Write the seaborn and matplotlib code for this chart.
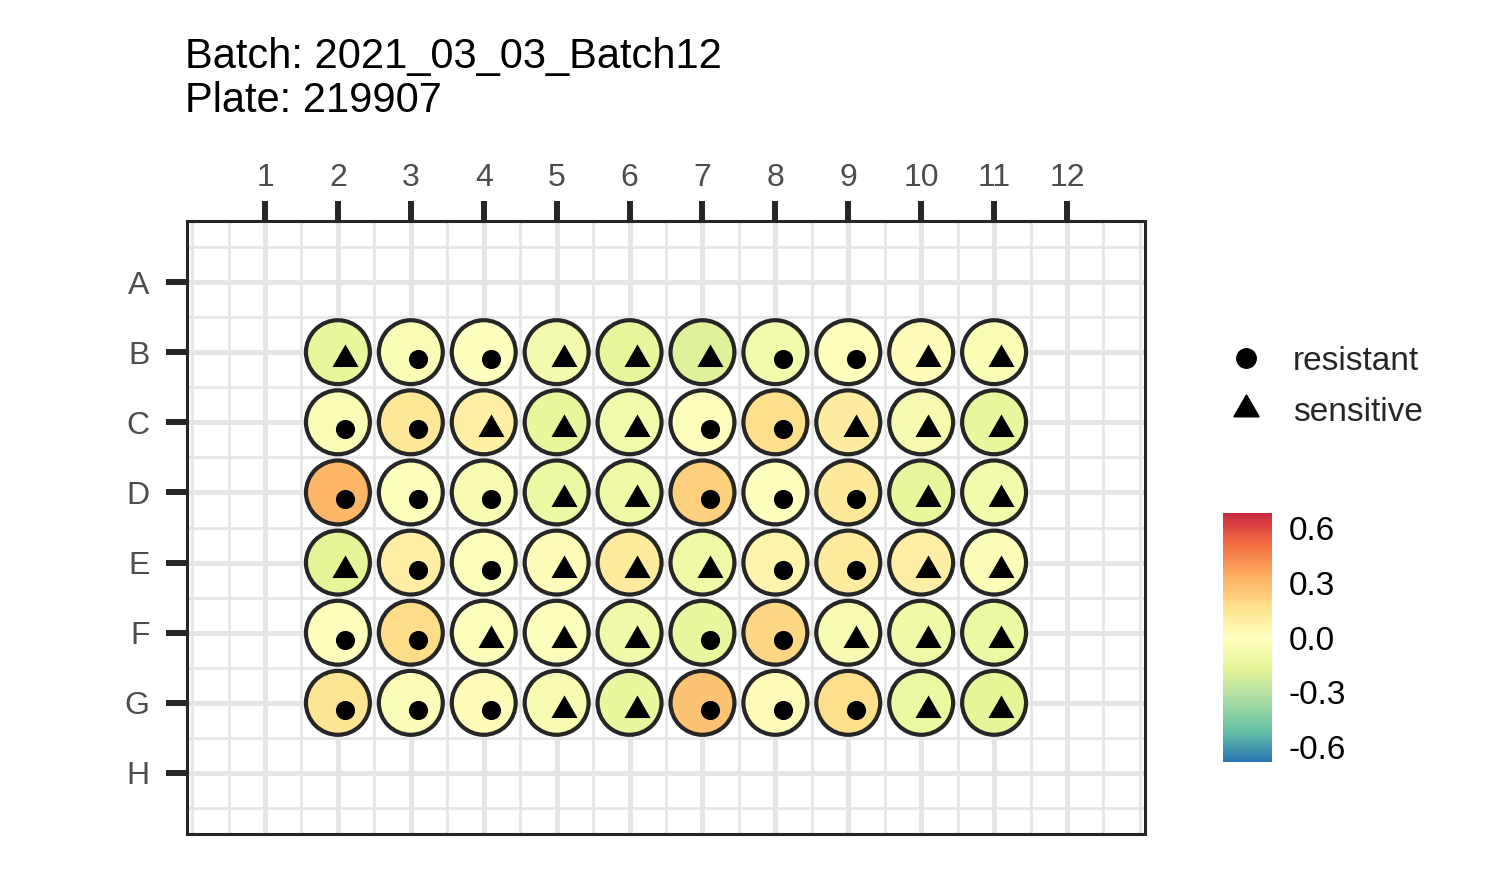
import numpy as np
import pandas as pd
import matplotlib
matplotlib.use("Agg")
import matplotlib.pyplot as plt
import matplotlib.colors as mcolors
from matplotlib.lines import Line2D
import seaborn as sns

# ---------------- data ----------------
plate_rows = ["A", "B", "C", "D", "E", "F", "G", "H"]
plate_cols = list(range(1, 13))
well_rows = ["B", "C", "D", "E", "F", "G"]
well_cols = [2, 3, 4, 5, 6, 7, 8, 9, 10, 11]

values = [
    [-0.15, -0.04, 0.00, -0.08, -0.15, -0.19, -0.09, -0.01, 0.02, -0.04],   # B
    [-0.04, 0.13, 0.09, -0.15, -0.09, 0.01, 0.17, 0.10, -0.06, -0.14],      # C
    [0.32, 0.00, -0.05, -0.12, -0.11, 0.23, 0.00, 0.12, -0.15, -0.09],      # D
    [-0.17, 0.09, -0.02, 0.02, 0.11, -0.11, 0.06, 0.11, 0.09, -0.03],       # E
    [0.01, 0.18, -0.02, -0.02, -0.10, -0.14, 0.20, -0.05, -0.11, -0.12],    # F
    [0.14, -0.03, 0.02, -0.05, -0.14, 0.27, 0.02, 0.17, -0.12, -0.17],      # G
]
R, S = "resistant", "sensitive"
types = [
    [S, R, R, S, S, S, R, R, S, S],  # B
    [R, R, S, S, S, R, R, S, S, S],  # C
    [R, R, R, S, S, R, R, R, S, S],  # D
    [S, R, R, S, S, S, R, R, S, S],  # E
    [R, R, S, S, S, R, R, S, S, S],  # F
    [R, R, R, S, S, R, R, R, S, S],  # G
]
title_text = "Batch: 2021_03_03_Batch12\nPlate: 219907"
cbar_ticks = [-0.6, -0.3, 0.0, 0.3, 0.6]
value_limits = (-0.685, 0.685)

records = []
for i, r in enumerate(well_rows):
    for j, c in enumerate(well_cols):
        records.append({"row": r, "col": c, "value": values[i][j], "type": types[i][j]})
df = pd.DataFrame(records)
df["y"] = df["row"].map({r: k + 1 for k, r in enumerate(plate_rows)})
df["xn"] = df["col"] + 0.1
df["yn"] = df["y"] + 0.1

# ---------------- style ----------------
sns.set_style("white")
plt.rcParams["font.family"] = ["Liberation Sans", "DejaVu Sans"]

spectral9 = ["#2b76b4", "#66c2a5", "#abdda4", "#e6f598", "#ffffbf",
             "#fee08b", "#fdae61", "#f46d43", "#c9283f"]
cmap = mcolors.LinearSegmentedColormap.from_list("spec", spectral9)
norm = mcolors.Normalize(*value_limits)

fig = plt.figure(figsize=(15, 8.75), dpi=100)
ax = fig.add_axes([187 / 1500, 1 - 834 / 875, (1145 - 187) / 1500, (834 - 221) / 875])

# wells
sns.scatterplot(data=df, x="col", y="y", hue="value", palette=cmap, hue_norm=norm,
                s=2116, edgecolor="#262626", linewidth=3.0, legend=False, ax=ax, zorder=3)
# inner markers
sns.scatterplot(data=df[df["type"] == R], x="xn", y="yn", color="black", marker="o",
                s=190, linewidth=0, legend=False, ax=ax, zorder=4)
sns.scatterplot(data=df[df["type"] == S], x="xn", y="yn", color="black", marker=(3, 0, 0),
                s=470, linewidth=0, legend=False, ax=ax, zorder=4)

ax.set_xticks(plate_cols)
ax.set_xticklabels([str(c) for c in plate_cols])
ax.set_yticks(range(1, len(plate_rows) + 1))
ax.set_yticklabels(plate_rows)
ax.set_xticks(np.arange(0, 13.01, 0.5), minor=True)
ax.set_yticks(np.arange(0, 9.01, 0.5), minor=True)
ax.set_xlim(-0.07, 13.07)
ax.set_ylim(8.87, 0.13)
ax.xaxis.tick_top()
ax.set_axisbelow(True)
ax.grid(which="major", color="#e5e5e5", linewidth=3.6)
ax.grid(which="minor", color="#e5e5e5", linewidth=1.9)
ax.tick_params(which="minor", length=0)
ax.tick_params(axis="x", which="major", top=True, bottom=False, length=14.5, width=4.3,
               color="#262626", labelsize=23, labelcolor="#4d4d4d", pad=6)
ax.tick_params(axis="y", which="major", left=True, length=15, width=4.3,
               color="#262626", labelsize=23, labelcolor="#4d4d4d", pad=12)
ax.set_xlabel("")
ax.set_ylabel("")
for sp in ax.spines.values():
    sp.set_visible(True)
    sp.set_color("#262626")
    sp.set_linewidth(2.2)

fig.text(185 / 1500, 1 - 37 / 875, title_text, ha="left", va="top", fontsize=30,
         color="black", linespacing=1.12)

# shape legend
handles = [
    Line2D([], [], marker="o", color="black", linestyle="none", markersize=14),
    Line2D([], [], marker=(3, 0, 0), color="black", linestyle="none", markersize=21),
]
fig.legend(handles, [R, S], loc="center left", bbox_to_anchor=(1196 / 1500, 1 - 387 / 875),
           frameon=False, fontsize=24, handletextpad=0.8, labelspacing=0.6, handlelength=1.2)

# colorbar
cax = fig.add_axes([1223 / 1500, 1 - 762 / 875, 49 / 1500, 249 / 875])
cb = matplotlib.colorbar.ColorbarBase(cax, cmap=cmap, norm=norm, ticks=cbar_ticks)
cb.outline.set_visible(False)
cax.set_yticklabels([f"{t:.1f}" for t in cbar_ticks])
cax.tick_params(axis="y", direction="in", left=True, right=True, color="white",
                length=7, width=1.5, labelsize=24, labelcolor="black", pad=12)

fig.savefig("out.png", dpi=100)
